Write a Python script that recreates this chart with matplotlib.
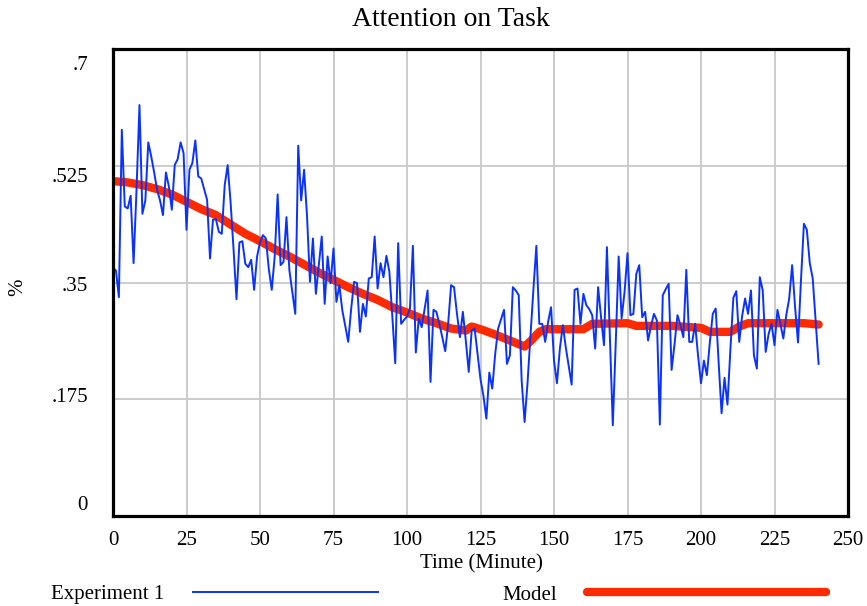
import matplotlib
matplotlib.use("Agg")
import matplotlib.pyplot as plt
from matplotlib.lines import Line2D
import numpy as np

plt.rcParams['font.family'] = ['Liberation Serif', 'DejaVu Serif']

# Experiment 1: attention measured once per minute (0..240)
minutes = np.arange(0, 241)
experiment = [
    0.372, 0.368, 0.328, 0.579, 0.464, 0.461, 0.480, 0.379, 0.489, 0.616,
    0.453, 0.473, 0.560, 0.539, 0.515, 0.489, 0.473, 0.451, 0.515, 0.494,
    0.459, 0.526, 0.535, 0.560, 0.544, 0.429, 0.519, 0.529, 0.563, 0.509,
    0.506, 0.490, 0.474, 0.386, 0.444, 0.445, 0.426, 0.423, 0.496, 0.526,
    0.470, 0.400, 0.325, 0.410, 0.412, 0.378, 0.373, 0.384, 0.339, 0.389,
    0.410, 0.421, 0.416, 0.370, 0.339, 0.389, 0.482, 0.376, 0.381, 0.448,
    0.368, 0.335, 0.303, 0.555, 0.473, 0.519, 0.449, 0.351, 0.416, 0.333,
    0.376, 0.419, 0.318, 0.389, 0.349, 0.401, 0.321, 0.346, 0.308, 0.285,
    0.261, 0.310, 0.351, 0.349, 0.276, 0.318, 0.299, 0.356, 0.358, 0.419,
    0.341, 0.379, 0.358, 0.390, 0.366, 0.300, 0.229, 0.409, 0.288, 0.294,
    0.299, 0.311, 0.405, 0.245, 0.296, 0.283, 0.310, 0.338, 0.201, 0.309,
    0.306, 0.288, 0.268, 0.247, 0.288, 0.346, 0.343, 0.303, 0.268, 0.306,
    0.263, 0.216, 0.278, 0.281, 0.243, 0.205, 0.180, 0.146, 0.215, 0.191,
    0.243, 0.281, 0.295, 0.309, 0.228, 0.241, 0.343, 0.338, 0.331, 0.203,
    0.141, 0.200, 0.270, 0.340, 0.405, 0.288, 0.288, 0.261, 0.291, 0.313,
    0.233, 0.199, 0.251, 0.286, 0.253, 0.225, 0.197, 0.339, 0.341, 0.288,
    0.333, 0.316, 0.310, 0.301, 0.251, 0.343, 0.298, 0.256, 0.403, 0.270,
    0.136, 0.260, 0.389, 0.296, 0.336, 0.394, 0.301, 0.303, 0.363, 0.376,
    0.298, 0.306, 0.263, 0.285, 0.303, 0.293, 0.137, 0.331, 0.340, 0.348,
    0.219, 0.258, 0.301, 0.286, 0.268, 0.369, 0.261, 0.261, 0.288, 0.240,
    0.199, 0.233, 0.211, 0.260, 0.303, 0.311, 0.230, 0.154, 0.207, 0.167,
    0.250, 0.327, 0.337, 0.261, 0.300, 0.326, 0.303, 0.338, 0.241, 0.221,
    0.358, 0.338, 0.246, 0.273, 0.288, 0.256, 0.309, 0.288, 0.266, 0.301,
    0.326, 0.376, 0.313, 0.260, 0.353, 0.438, 0.429, 0.379, 0.356, 0.293,
    0.228,
]

# Model output
model_time = [0, 5, 10, 15, 20, 25, 30, 35, 40, 45, 50, 55, 60, 65, 70, 75,
              80, 85, 90, 95, 100, 105, 110, 115, 120, 122, 125, 130, 135,
              140, 142, 145, 147, 160, 163, 175, 178, 190, 200, 203, 210,
              213, 216, 235, 240]
model_value = [0.502, 0.500, 0.496, 0.490, 0.482, 0.471, 0.460, 0.451, 0.437,
               0.423, 0.412, 0.400, 0.389, 0.377, 0.365, 0.354, 0.343, 0.333,
               0.324, 0.313, 0.305, 0.296, 0.289, 0.281, 0.278, 0.284, 0.280,
               0.272, 0.263, 0.254, 0.262, 0.276, 0.280, 0.280, 0.288, 0.289,
               0.285, 0.285, 0.282, 0.276, 0.276, 0.284, 0.289, 0.289, 0.287]

x_ticks = [0, 25, 50, 75, 100, 125, 150, 175, 200, 225, 250]
y_ticks = [0, 0.175, 0.35, 0.525, 0.7]
y_tick_labels = ['0', '.175', '.35', '.525', '.7']

BLUE = '#0a32ff'
RED = '#ff2a00'

W, H = 867, 606
fig = plt.figure(figsize=(W / 100, H / 100), dpi=100)
ax = fig.add_axes([113 / W, 1 - 516 / H, 735 / W, 467 / H])
ax.set_xlim(0, 250)
ax.set_ylim(0, 0.7)
ax.set_xticks(x_ticks)
ax.set_xticklabels([str(t) for t in x_ticks])
ax.set_yticks(y_ticks)
ax.set_yticklabels([])
ax.grid(True, color='#c8c8c8', linewidth=1.3)
ax.set_axisbelow(True)
ax.tick_params(length=0, labelsize=15, pad=10.5)
for sp in ax.spines.values():
    sp.set_linewidth(2.3)
    sp.set_color('black')
    sp.set_zorder(5)

ax.plot(model_time, model_value, color=RED, linewidth=6,
        solid_capstyle='round', solid_joinstyle='round', zorder=2)
ax.plot(minutes, experiment, color=BLUE, linewidth=1.4, zorder=3)

# y tick labels, evenly spread inside the frame
label_rows = [506, 397, 286, 178, 66]
for lab, py in zip(y_tick_labels, label_rows):
    fig.text(88 / W, 1 - py / H, lab, ha='right', va='center', fontsize=15)

fig.text(18 / W, 1 - 287 / H, '%', rotation=90, ha='center', va='center',
         fontsize=15)
fig.text(451 / W, 1 - 19 / H, 'Attention on Task', ha='center', va='center',
         fontsize=20)
fig.text(481 / W, 1 - 564 / H, 'Time (Minute)', ha='center', va='center',
         fontsize=15)

# legend row
fig.text(51 / W, 1 - 595 / H, 'Experiment 1', ha='left', va='center',
         fontsize=15)
fig.add_artist(Line2D([193 / W, 378 / W], [1 - 592 / H] * 2,
                      transform=fig.transFigure, color=BLUE, linewidth=1.4))
fig.text(502 / W, 1 - 595 / H, 'Model', ha='left', va='center', fontsize=15)
fig.add_artist(Line2D([587 / W, 826 / W], [1 - 592 / H] * 2,
                      transform=fig.transFigure, color=RED, linewidth=6,
                      solid_capstyle='round'))

fig.savefig('out.png', dpi=100)
